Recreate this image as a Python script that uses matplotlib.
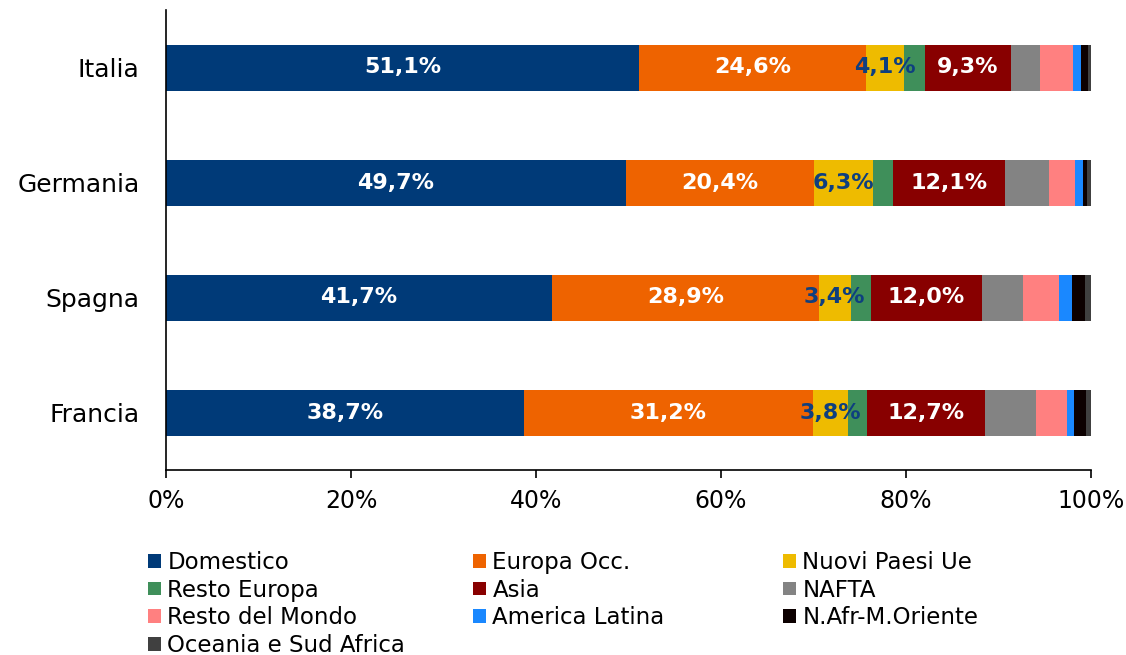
import matplotlib
matplotlib.use("Agg")
import matplotlib.pyplot as plt
from matplotlib.patches import Patch
import numpy as np

# Data (shares of turnover by destination, %)

COUNTRIES = ["Italia", "Germania", "Spagna", "Francia"]

SERIES = ["Domestico", "Europa Occ.", "Nuovi Paesi Ue", "Resto Europa", "Asia",
          "NAFTA", "Resto del Mondo", "America Latina", "N.Afr-M.Oriente",
          "Oceania e Sud Africa"]

domestico   = [51.1, 49.7, 41.7, 38.7]
europa_occ  = [24.6, 20.4, 28.9, 31.2]
nuovi_ue    = [4.1, 6.3, 3.4, 3.8]
resto_eur   = [2.2, 2.2, 2.2, 2.1]
asia        = [9.3, 12.1, 12.0, 12.7]
nafta       = [3.2, 4.8, 4.4, 5.5]
resto_mondo = [3.5, 2.8, 3.9, 3.4]
am_latina   = [0.9, 0.8, 1.4, 0.8]
nafr_mo     = [0.8, 0.5, 1.4, 1.3]
oceania     = [0.3, 0.4, 0.7, 0.5]

VALUES = [domestico, europa_occ, nuovi_ue, resto_eur, asia, nafta,
          resto_mondo, am_latina, nafr_mo, oceania]

COLORS = ["#003A78", "#EE6300", "#EEBB00", "#3F8F5A", "#880000",
          "#838383", "#FF8080", "#1A88FF", "#0C0000", "#404040"]

# which series get a value label, and in which colour
LABELS = {0: "white", 1: "white", 2: "#0E3F7F", 4: "white"}

plt.rcParams["font.family"] = ["DejaVu Sans"]

fig = plt.figure(figsize=(11.26, 6.55), dpi=100)
ax = fig.add_axes([166 / 1126, 1 - 470 / 655, 925 / 1126, 460 / 655])

y = np.arange(len(COUNTRIES))
left = np.zeros(len(COUNTRIES))
for i, (vals, col) in enumerate(zip(VALUES, COLORS)):
    vals = np.array(vals)
    ax.barh(y, vals, left=left, height=0.4, color=col, edgecolor="none")
    if i in LABELS:
        for yy, l, v in zip(y, left, vals):
            ax.text(l + v / 2, yy, f"{v:.1f}%".replace(".", ","),
                    ha="center", va="center", fontsize=16, fontweight="bold",
                    color=LABELS[i])
    left += vals

ax.set_xlim(0, 100)
ax.set_ylim(3.5, -0.5)
ax.set_yticks(y)
ax.set_yticklabels(COUNTRIES, fontsize=18)
ax.set_xticks(np.arange(0, 101, 20))
ax.set_xticklabels([f"{t}%" for t in range(0, 101, 20)], fontsize=17)
ax.tick_params(axis="y", length=0, pad=19)
ax.tick_params(axis="x", length=6, width=1.2, direction="out", pad=8)
for s in ["top", "right"]:
    ax.spines[s].set_visible(False)
for s in ["left", "bottom"]:
    ax.spines[s].set_linewidth(1.2)
    ax.spines[s].set_color("black")

# Legend: three columns, filled row by row
handles = [Patch(facecolor=c, edgecolor="none") for c in COLORS]
col_x = [148 / 1126, 473 / 1126, 783 / 1126]
for k in range(3):
    idx = list(range(k, len(SERIES), 3))
    fig.legend([handles[i] for i in idx], [SERIES[i] for i in idx],
               loc="upper left", bbox_to_anchor=(col_x[k], 1 - 551 / 655),
               frameon=False, fontsize=16.5, handlelength=0.55, handleheight=0.55,
               handletextpad=0.3, labelspacing=0.2, borderpad=0, borderaxespad=0)

fig.savefig("out.png", dpi=100)
